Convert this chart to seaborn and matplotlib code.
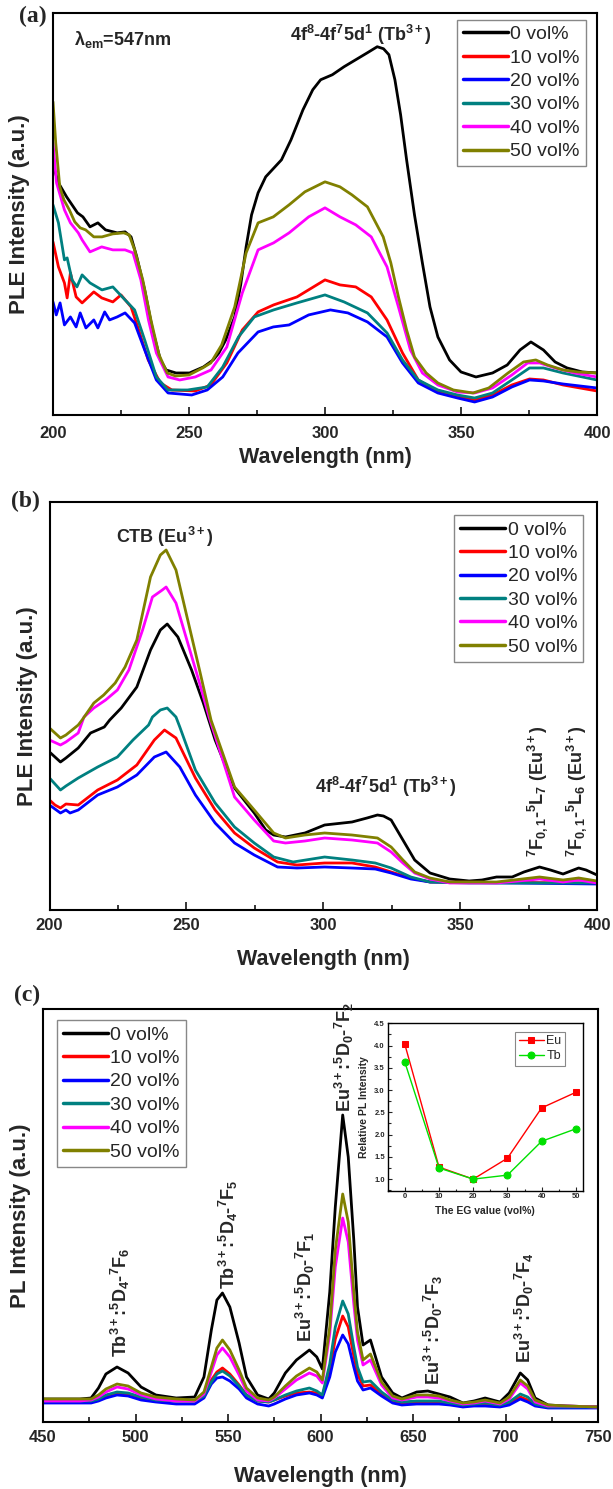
import matplotlib
matplotlib.use('Agg')
import matplotlib.pyplot as plt
import seaborn as sns
from matplotlib.ticker import MultipleLocator, NullLocator

# sample labels and colours (same for all three panels)
labels = ['0 vol%', '10 vol%', '20 vol%', '30 vol%', '40 vol%', '50 vol%']
colors = ['black', 'red', 'blue', '#008080', 'magenta', '#808000']

# ---- (a) PLE, lambda_em = 547 nm : (wavelength nm, intensity a.u.)
a_0 = [(200, 250), (202, 232), (205, 218), (209, 202), (211, 198), (213.6, 188), (216.5, 192),
       (219.3, 185), (223.6, 182), (226.5, 183), (228.7, 178), (230.8, 158), (233.7, 125),
       (236.6, 85), (239.5, 55), (241.6, 45), (245.2, 42), (250.2, 42), (255.3, 48), (258.9, 55),
       (261, 62), (263.5, 75), (266.8, 98), (269, 130), (271, 168), (273, 200), (275.4, 222),
       (278.2, 238), (284, 255), (287.5, 275), (291.9, 305), (295.5, 325), (298.4, 335),
       (302.7, 340), (307, 348), (311.3, 355), (315.6, 362), (319.2, 368), (321.5, 366),
       (323.5, 360), (325.7, 335), (327.8, 300), (330, 255), (332.9, 200), (335.8, 152),
       (338.6, 108), (341.5, 78), (345.8, 55), (350, 43), (355.5, 38), (361.6, 42), (367, 50),
       (371.7, 65), (375.7, 73), (380.3, 65), (384.6, 53), (389, 47), (394.6, 43), (400, 42)]
a_10 = [(200, 173), (202, 148), (204.2, 132), (205.2, 117), (206.4, 142), (208.5, 118), (210.7, 112),
        (215, 123), (217.9, 117), (222, 113), (225, 120), (228.7, 108), (231.5, 85), (235, 55),
        (239.5, 32), (243.7, 25), (252.3, 24), (258, 30), (263.9, 52), (269.6, 85), (275.4, 103),
        (281.1, 110), (289.7, 118), (300, 135), (305.5, 130), (311.3, 128), (317, 118),
        (322.8, 95), (328.5, 62), (334.3, 35), (341.5, 23), (348.7, 18), (355, 15), (361.6, 20),
        (368.7, 30), (375.2, 36), (380.3, 35), (387.5, 30), (400, 24)]
a_20 = [(200, 113), (201.2, 100), (202.6, 112), (204.2, 90), (206.4, 98), (208.5, 88), (210, 102),
        (212.1, 87), (215, 95), (216.5, 87), (219, 103), (220.8, 95), (223.6, 98), (226.5, 102),
        (230, 92), (233.7, 65), (238, 35), (242.3, 22), (251, 20), (256.7, 25), (262.4, 38),
        (268, 62), (275.4, 83), (281, 88), (286.8, 90), (294, 100), (302, 105), (308.4, 102),
        (315.6, 93), (322.8, 78), (328.5, 52), (334.3, 32), (341.5, 22), (348.7, 17), (355, 13),
        (361.6, 18), (368.7, 28), (375.2, 35), (380.3, 34), (387.5, 31), (400, 27)]
a_30 = [(200, 210), (202, 192), (204.2, 155), (205.2, 157), (207, 135), (208.8, 128), (210.7, 140),
        (213.6, 132), (218, 125), (222, 128), (226.5, 115), (230, 105), (233.7, 75), (238, 38),
        (242.3, 25), (249.5, 25), (256.7, 28), (262.4, 48), (268.2, 78), (274, 98), (281.1, 105),
        (289.7, 112), (300, 120), (307, 113), (315.6, 102), (322.8, 82), (328.5, 55), (334.3, 35),
        (341.5, 25), (348.7, 20), (355, 17), (361.6, 22), (368.7, 35), (375.2, 47), (380.3, 47),
        (387.5, 42), (400, 35)]
a_40 = [(200, 272), (201.3, 232), (204.2, 205), (206.4, 192), (209.3, 182), (210.7, 175), (213.6, 163),
        (217.9, 168), (222, 165), (226.5, 165), (229.4, 162), (232.3, 135), (235.1, 95), (238, 62),
        (242.3, 38), (246.6, 35), (252.3, 38), (258.1, 45), (263.9, 68), (269.6, 122), (275.4, 165),
        (281.1, 172), (286.8, 182), (294, 198), (300, 207), (305.5, 198), (311.3, 190), (317, 178),
        (322.8, 148), (327, 108), (331.4, 65), (335.8, 42), (341.5, 30), (348.7, 23), (355, 22),
        (361.6, 27), (368.7, 40), (374.5, 52), (378.9, 52), (384.6, 47), (391.8, 42), (400, 38)]
a_50 = [(200, 313), (201, 272), (202.5, 228), (204, 215), (206, 205), (208, 193), (210, 187),
        (212, 185), (215, 178), (218, 178), (222, 181), (226, 182), (228, 180), (230, 165),
        (233, 135), (236, 95), (239, 60), (242, 42), (245, 39), (250, 40), (255, 47), (258, 52),
        (262, 70), (266.8, 108), (271, 162), (275.4, 192), (281, 198), (286.8, 210), (292.6, 223),
        (300, 233), (305.5, 228), (309.9, 220), (315.6, 208), (321.4, 178), (324.2, 152),
        (327, 118), (330, 85), (332.9, 58), (337.2, 42), (341.5, 32), (347.2, 25), (354.4, 22),
        (360.2, 27), (367.3, 42), (373, 53), (377.5, 55), (381.8, 50), (387.5, 45), (393, 43),
        (400, 42)]

# ---- (b) PLE
b_0 = [(200, 158), (204, 148), (206, 152), (210.5, 162), (215, 177), (220, 183), (222, 190),
       (226.2, 202), (231.9, 223), (236.9, 260), (240.5, 280), (243, 286), (246.9, 273),
       (251.9, 240), (256.2, 207), (260.5, 170), (267.6, 122), (274.8, 97), (279, 80), (281.9, 75),
       (286.2, 73), (293.3, 77), (300.5, 85), (310.5, 88), (316, 92), (319.8, 95), (322, 94),
       (324.8, 90), (329.1, 70), (333.4, 50), (339, 37), (346.2, 31), (353.3, 29), (358, 30),
       (363.3, 33), (369, 33), (373.3, 38), (379, 43), (383, 40), (387.6, 36), (393.3, 42),
       (396, 40), (400, 35)]
b_10 = [(200, 110), (202, 105), (204, 102), (206, 106), (210.5, 105), (217.6, 120), (224.8, 130),
        (231.9, 145), (238.3, 170), (242, 180), (246.2, 172), (253.3, 132), (260.5, 100),
        (267.6, 77), (274.8, 62), (283.3, 48), (290.4, 45), (300.5, 47), (310.5, 47), (319, 43),
        (324.8, 38), (332, 32), (339, 28), (400, 27)]
b_20 = [(200, 105), (202, 101), (204, 97), (206, 100), (207.5, 97), (210.5, 100), (217.6, 115),
        (224.8, 123), (231.9, 135), (238.3, 153), (242.6, 158), (247.6, 143), (253.3, 115),
        (260.5, 87), (267.6, 67), (274.8, 55), (283.3, 43), (290.4, 42), (300.5, 43), (310.5, 42),
        (319, 41), (324.8, 37), (332, 31), (339, 28), (400, 26)]
b_30 = [(200, 132), (204, 120), (206, 124), (210.5, 132), (217.6, 143), (224.8, 153), (230.5, 170),
        (236.2, 185), (237.6, 193), (240.5, 200), (243, 202), (246.2, 193), (247.6, 183),
        (253.3, 140), (260.5, 107), (267.6, 83), (274.8, 67), (281.9, 53), (289, 48), (300.5, 53),
        (310.5, 50), (319, 47), (324.8, 42), (332, 33), (339, 28), (353.3, 27), (400, 27)]
b_40 = [(200, 170), (204, 165), (206, 168), (210.5, 177), (212.6, 193), (216.2, 202), (220.5, 210),
        (224.8, 220), (229, 240), (234, 280), (237.6, 313), (241.2, 320), (242.6, 323),
        (246.2, 307), (250.5, 267), (254.8, 227), (258.3, 193), (267.6, 113), (274.8, 90),
        (281.9, 69), (286.2, 67), (293.3, 69), (300.5, 72), (310.5, 70), (319.8, 67), (324.8, 58),
        (329.1, 47), (333.4, 37), (339, 31), (346.2, 27), (353.3, 27), (363.3, 27), (379, 31),
        (387.6, 28), (393.3, 30), (400, 27)]
b_50 = [(200, 182), (204, 172), (206, 175), (210.5, 185), (211.9, 190), (216.2, 207), (219.8, 215),
        (224, 227), (227.6, 243), (231.9, 270), (236.9, 333), (240.5, 355), (242.6, 360),
        (246.2, 340), (250.5, 290), (254.8, 240), (259, 190), (267.6, 123), (274.8, 100),
        (281.9, 77), (286.2, 72), (293.3, 75), (300.5, 77), (310.5, 75), (319.8, 72), (324.8, 63),
        (329.1, 50), (333.4, 38), (339, 32), (346.2, 28), (353.3, 28), (363.3, 28), (379, 33),
        (387.6, 30), (393.3, 32), (400, 29)]

# ---- (c) PL emission, common wavelength grid
c_wl = [450, 470, 476, 480, 484, 490, 496, 503, 511, 522, 532, 537, 541, 544, 547, 551, 556, 560,
        566, 572, 575, 581, 587, 594, 598, 601, 605, 608, 612, 615, 618, 620, 623, 627, 633, 639,
        644, 652, 658, 664, 670, 677, 683, 689, 697, 702, 708, 712, 716, 723, 733, 750]
c_0 = [23, 23, 24, 34, 48, 55, 49, 35, 27, 24, 25, 45, 92, 122, 129, 115, 79, 45, 27, 23, 29, 49,
       62, 72, 65, 53, 130, 215, 307, 265, 182, 115, 77, 82, 45, 29, 24, 30, 31, 28, 25, 19, 21, 24,
       20, 29, 49, 42, 24, 17, 16, 15]
c_10 = [21, 21, 21, 23, 26, 29, 28, 24, 22, 21, 21, 27, 42, 50, 54, 48, 37, 27, 21, 20, 22, 26,
        29, 30, 29, 26, 52, 83, 106, 95, 66, 48, 36, 37, 28, 21, 19, 20, 20, 20, 18, 17, 17, 18,
        16, 19, 25, 22, 17, 15, 15, 15]
c_20 = [19, 19, 19, 21, 24, 27, 26, 22, 20, 18, 18, 24, 38, 44, 45, 41, 33, 24, 18, 16, 18, 23,
        27, 29, 27, 24, 45, 70, 87, 78, 55, 41, 32, 34, 26, 19, 17, 18, 18, 18, 17, 15, 16, 16,
        15, 17, 23, 20, 16, 14, 14, 14]
c_30 = [21, 21, 21, 23, 27, 30, 29, 25, 22, 21, 21, 26, 40, 48, 51, 46, 36, 27, 21, 20, 22, 27,
        31, 34, 31, 27, 58, 95, 121, 108, 75, 55, 40, 41, 30, 22, 20, 21, 21, 21, 19, 17, 18, 19,
        17, 20, 28, 25, 18, 15, 15, 15]
c_40 = [21, 21, 22, 25, 30, 35, 33, 27, 23, 21, 21, 28, 50, 67, 74, 65, 47, 31, 22, 21, 24, 33,
        42, 49, 46, 39, 88, 155, 204, 180, 118, 82, 57, 62, 37, 24, 22, 25, 25, 24, 21, 18, 19, 21,
        18, 23, 39, 33, 20, 16, 16, 15]
c_50 = [23, 23, 23, 27, 33, 38, 36, 29, 25, 23, 22, 30, 55, 74, 82, 72, 52, 34, 24, 22, 25, 36,
        46, 54, 50, 42, 95, 172, 228, 200, 130, 90, 62, 68, 40, 26, 23, 27, 27, 26, 22, 19, 20, 22,
        19, 25, 42, 36, 22, 17, 16, 15]

# ---- inset: relative PL intensity vs EG content
eg_values = [0, 10, 20, 30, 40, 50]
eu_rel = [4.03, 1.27, 1.0, 1.47, 2.6, 2.95]
tb_rel = [3.63, 1.25, 1.0, 1.09, 1.85, 2.13]

ple_ticks = [200, 250, 300, 350, 400]
pl_ticks = [450, 500, 550, 600, 650, 700, 750]
inset_xticks = [0, 10, 20, 30, 40, 50]
inset_yticks = [1.0, 1.5, 2.0, 2.5, 3.0, 3.5, 4.0, 4.5]

sns.set_style('ticks')
plt.rcParams['font.family'] = ['Liberation Sans', 'DejaVu Sans']
plt.rcParams.update({
    'mathtext.fontset': 'custom',
    'mathtext.rm': 'Liberation Sans:bold',
    'mathtext.it': 'Liberation Sans:bold',
    'mathtext.bf': 'Liberation Sans:bold',
    'mathtext.default': 'rm',
})

W, H = 613, 1489
fig = plt.figure(figsize=(W / 100, H / 100), dpi=100)


def add_ax(l, t, r, b):
    return fig.add_axes([l / W, 1 - b / H, (r - l) / W, (b - t) / H])


def spectrum(ax, series, xlim, ytop, ticks, ylab, ylab_x, tickpad, xlab_y, leg_xy):
    for s, lab, col in zip(series, labels, colors):
        if isinstance(s, tuple):
            x, y = s
        else:
            x, y = zip(*s)
        sns.lineplot(x=list(x), y=list(y), color=col, lw=2.0, label=lab, ax=ax, sort=False)
    ax.set_xlim(*xlim)
    ax.set_ylim(0, ytop)
    ax.set_xticks(ticks)
    ax.set_xticklabels([str(t) for t in ticks], fontsize=12, fontweight='bold')
    ax.xaxis.set_minor_locator(MultipleLocator(25))
    ax.yaxis.set_major_locator(NullLocator())
    ax.tick_params(axis='x', which='both', direction='in', width=1.3, pad=tickpad, bottom=True)
    ax.tick_params(axis='x', which='major', length=6)
    ax.tick_params(axis='x', which='minor', length=3.5)
    for sp in ax.spines.values():
        sp.set_linewidth(1.5)
        sp.set_color('black')
    ax.set_xlabel('Wavelength (nm)', fontsize=15.5, fontweight='bold')
    ax.xaxis.label.set_va('center')
    ax.xaxis.set_label_coords(0.5, xlab_y)
    ax.set_ylabel(ylab, fontsize=16, fontweight='bold')
    ax.yaxis.label.set_va('center')
    ax.yaxis.set_label_coords(ylab_x, 0.5)
    leg = ax.legend(loc='upper left', bbox_to_anchor=leg_xy, fontsize=14, frameon=True,
                    fancybox=False, edgecolor='#888888', framealpha=1, handlelength=2.3,
                    handletextpad=0.15, labelspacing=0.3, borderpad=0.3, borderaxespad=0)
    leg.get_frame().set_linewidth(1.0)
    for ln in leg.get_lines():
        ln.set_linewidth(2.5)


bold = dict(fontweight='bold')

# (a)
ax_a = add_ax(53, 12.7, 597, 415)
spectrum(ax_a, [a_0, a_10, a_20, a_30, a_40, a_50], (200, 400), 402, ple_ticks,
         'PLE Intensity (a.u.)', -0.061, 8, -0.1045, (0.7426, 0.9826))
ax_a.text(207.7, 375, r'$\lambda_{em}$=547nm', fontsize=13, ha='left', va='center', **bold)
ax_a.text(313, 380, r'4f$^8$-4f$^7$5d$^1$ (Tb$^{3+}$)', fontsize=13, ha='center', va='center', **bold)

# (b)
ax_b = add_ax(49.5, 502, 597, 910)
spectrum(ax_b, [b_0, b_10, b_20, b_30, b_40, b_50], (200, 400), 408, ple_ticks,
         'PLE Intensity (a.u.)', -0.041, 6, -0.1225, (0.739, 0.968))
ax_b.text(242.2, 373, r'CTB (Eu$^{3+}$)', fontsize=13, ha='center', va='center', **bold)
ax_b.text(322.9, 123, r'4f$^8$-4f$^7$5d$^1$ (Tb$^{3+}$)', fontsize=13, ha='center', va='center', **bold)
ax_b.text(378.3, 53, r'$^7$F$_{0,1}$-$^5$L$_7$ (Eu$^{3+}$)', fontsize=13, rotation=90,
          ha='center', va='bottom', **bold)
ax_b.text(392.5, 53, r'$^7$F$_{0,1}$-$^5$L$_6$ (Eu$^{3+}$)', fontsize=13, rotation=90,
          ha='center', va='bottom', **bold)

# (c)
ax_c = add_ax(43, 1009, 598, 1422)
spectrum(ax_c, [(c_wl, c) for c in [c_0, c_10, c_20, c_30, c_40, c_50]], (450, 750), 413,
         pl_ticks, 'PL Intensity (a.u.)', -0.041, 6, -0.133, (0.0252, 0.973))
c_notes = [(491.6, 65, r'Tb$^{3+}$:$^5$D$_4$-$^7$F$_6$'),
           (550, 133, r'Tb$^{3+}$:$^5$D$_4$-$^7$F$_5$'),
           (591.6, 80, r'Eu$^{3+}$:$^5$D$_0$-$^7$F$_1$'),
           (613.2, 310, r'Eu$^{3+}$:$^5$D$_0$-$^7$F$_2$'),
           (660.8, 37, r'Eu$^{3+}$:$^5$D$_0$-$^7$F$_3$'),
           (710, 59, r'Eu$^{3+}$:$^5$D$_0$-$^7$F$_4$')]
for x, y, s in c_notes:
    ax_c.text(x, y, s, fontsize=13, rotation=90, ha='center', va='bottom', **bold)

# inset
ins = add_ax(387.7, 1023.3, 582.7, 1190.7)
sns.lineplot(x=eg_values, y=eu_rel, color='red', marker='s', markersize=5, markeredgecolor='red',
             lw=1.0, label='Eu', ax=ins)
sns.lineplot(x=eg_values, y=tb_rel, color='#00e000', marker='o', markersize=5,
             markeredgecolor='#00e000', lw=1.0, label='Tb', ax=ins)
ins.set_xlim(-5, 52)
ins.set_ylim(0.74, 4.5)
ins.set_xticks(inset_xticks)
ins.set_xticklabels([str(t) for t in inset_xticks], fontsize=5.5, fontweight='bold')
ins.set_yticks(inset_yticks)
ins.set_yticklabels(['%.1f' % t for t in inset_yticks], fontsize=5.5, fontweight='bold')
ins.xaxis.set_minor_locator(MultipleLocator(5))
ins.yaxis.set_minor_locator(MultipleLocator(0.25))
ins.tick_params(which='both', direction='in', width=0.8, pad=2, left=True, bottom=True)
ins.tick_params(which='major', length=3)
ins.tick_params(which='minor', length=1.8)
for sp in ins.spines.values():
    sp.set_linewidth(1.0)
    sp.set_color('black')
ins.set_xlabel('The EG value (vol%)', fontsize=7.5, fontweight='bold')
ins.xaxis.label.set_va('center')
ins.xaxis.set_label_coords(0.5, -0.12)
ins.set_ylabel('Relative PL Intensity', fontsize=7.5, fontweight='bold')
ins.yaxis.label.set_va('center')
ins.yaxis.set_label_coords(-0.12, 0.5)
ileg = ins.legend(loc='upper left', bbox_to_anchor=(0.653, 0.95), fontsize=9, frameon=True,
                  fancybox=False, edgecolor='#888888', framealpha=1, handlelength=2.0,
                  handletextpad=0.2, labelspacing=0.2, borderpad=0.3, borderaxespad=0)
ileg.get_frame().set_linewidth(0.8)

# panel letters
for x, y, s in [(33, 16, '(a)'), (25.5, 501, '(b)'), (27, 995, '(c)')]:
    fig.text(x / W, 1 - y / H, s, fontsize=17, fontweight='bold', family='Liberation Serif',
             ha='center', va='center')

fig.savefig('out.png', dpi=100)
